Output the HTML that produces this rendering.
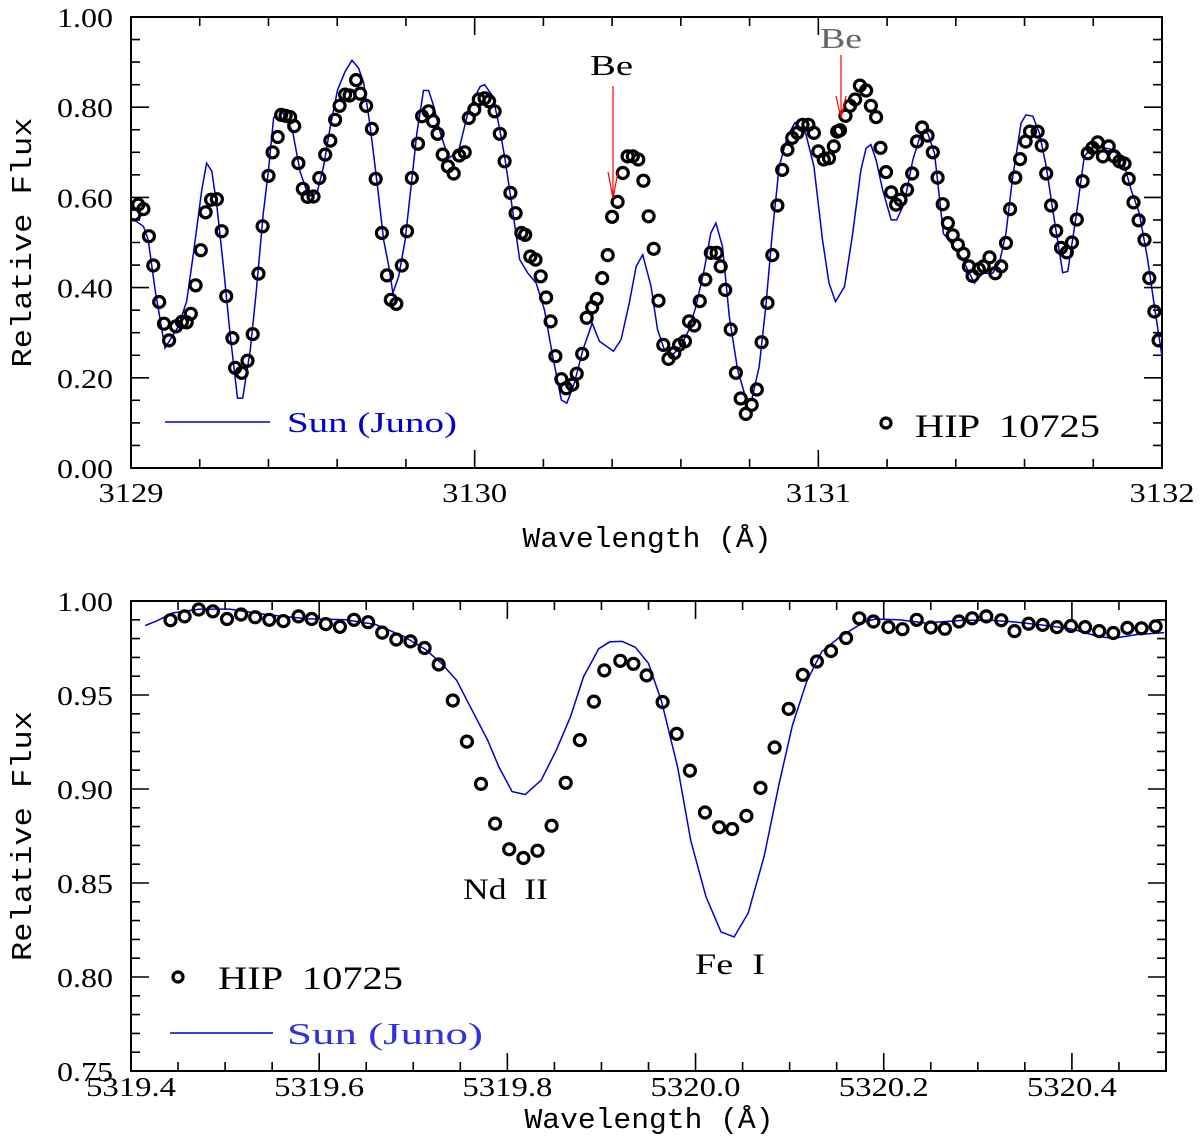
<!DOCTYPE html>
<html><head><meta charset="utf-8"><style>
html,body{margin:0;padding:0;background:#fff;}
svg{display:block;}
text{font-family:"Liberation Serif",serif;white-space:pre;}
.tk{font-size:27px;fill:#000;}
.ttl{font-family:"Liberation Mono",monospace;font-size:29px;fill:#000;}
</style></head><body>
<svg id="fig" width="1200" height="1139" viewBox="0 0 1200 1139" xmlns="http://www.w3.org/2000/svg"></svg>
<script>
// ---------- TOP PANEL DATA (Be region) ----------
const topStarWl = [3129.010,3129.021,3129.036,3129.052,3129.065,3129.082,3129.096,3129.111,3129.131,3129.148,3129.162,3129.174,3129.188,3129.203,3129.217,3129.233,3129.250,3129.264,3129.277,3129.295,3129.303,3129.322,3129.339,3129.354,3129.371,3129.383,3129.400,3129.412,3129.427,3129.437,3129.450,3129.463,3129.475,3129.487,3129.500,3129.514,3129.531,3129.548,3129.565,3129.580,3129.594,3129.607,3129.623,3129.636,3129.655,3129.667,3129.684,3129.701,3129.712,3129.730,3129.745,3129.756,3129.772,3129.788,3129.803,3129.817,3129.835,3129.847,3129.866,3129.879,3129.892,3129.907,3129.922,3129.939,3129.955,3129.971,3129.983,3129.999,3130.012,
3130.029,3130.042,3130.058,3130.073,3130.087,3130.104,3130.119,3130.136,3130.147,3130.162,3130.177,3130.192,3130.208,3130.221,3130.235,3130.252,3130.266,3130.284,3130.297,3130.313,3130.326,3130.342,3130.355,3130.371,3130.387,3130.400,3130.416,3130.431,3130.445,3130.460,3130.476,3130.491,3130.506,3130.521,3130.535,3130.549,3130.564,3130.581,3130.595,3130.612,3130.624,3130.639,3130.655,3130.671,3130.687,3130.704,3130.716,3130.729,3130.745,3130.760,3130.774,3130.789,3130.806,3130.821,3130.835,3130.852,3130.866,3130.881,3130.895,3130.910,3130.924,3130.939,3130.954,3130.971,3130.987,3131.000,3131.016,3131.031,3131.045,3131.055,
3131.063,3131.079,3131.092,3131.107,3131.121,3131.139,3131.153,3131.168,3131.181,3131.197,3131.212,3131.226,3131.239,3131.258,3131.273,3131.287,3131.302,3131.318,3131.333,3131.347,3131.362,3131.377,3131.391,3131.406,3131.422,3131.438,3131.449,3131.467,3131.481,3131.498,3131.515,3131.532,3131.546,3131.558,3131.573,3131.587,3131.603,3131.616,3131.638,3131.650,3131.663,3131.677,3131.692,3131.706,3131.723,3131.738,3131.752,3131.769,3131.784,3131.798,3131.813,3131.828,3131.845,3131.861,3131.876,3131.891,3131.903,3131.917,3131.932,3131.949,3131.963,3131.978,3131.990];
const topStarFlux = [0.562,0.584,0.574,0.514,0.449,0.368,0.320,0.283,0.314,0.324,0.323,0.342,0.405,0.483,0.567,0.595,0.596,0.525,0.381,0.288,0.222,0.211,0.238,0.297,0.431,0.536,0.648,0.700,0.734,0.783,0.781,0.778,0.758,0.676,0.619,0.601,0.602,0.643,0.695,0.726,0.772,0.803,0.828,0.826,0.860,0.830,0.803,0.752,0.641,0.521,0.427,0.373,0.364,0.449,0.525,0.643,0.719,0.780,0.791,0.769,0.741,0.695,0.669,0.653,0.693,0.700,0.776,0.795,0.817,
0.820,0.813,0.791,0.741,0.680,0.610,0.565,0.521,0.517,0.469,0.462,0.425,0.378,0.325,0.248,0.197,0.177,0.185,0.209,0.253,0.333,0.356,0.375,0.421,0.472,0.557,0.590,0.654,0.691,0.691,0.684,0.637,0.558,0.486,0.371,0.273,0.242,0.255,0.273,0.281,0.325,0.316,0.370,0.418,0.477,0.477,0.447,0.395,0.307,0.211,0.154,0.120,0.140,0.174,0.279,0.366,0.472,0.582,0.661,0.706,0.732,0.743,0.761,0.761,0.743,0.702,0.684,0.687,0.713,0.746,
0.749,0.781,0.803,0.817,0.848,0.837,0.803,0.778,0.710,0.656,0.611,0.584,0.595,0.617,0.653,0.724,0.755,0.737,0.700,0.644,0.585,0.543,0.516,0.495,0.475,0.447,0.426,0.441,0.447,0.467,0.432,0.447,0.499,0.574,0.644,0.685,0.724,0.746,0.746,0.715,0.653,0.582,0.526,0.488,0.478,0.500,0.551,0.636,0.698,0.710,0.722,0.691,0.713,0.691,0.680,0.675,0.641,0.589,0.549,0.506,0.421,0.347,0.283];
const topSunWl = [3129.000,3129.036,3129.050,3129.070,3129.099,3129.138,3129.162,3129.182,3129.206,3129.220,3129.235,3129.250,3129.269,3129.288,3129.310,3129.325,3129.347,3129.364,3129.385,3129.400,3129.415,3129.429,3129.449,3129.471,3129.492,3129.517,3129.541,3129.560,3129.580,3129.601,3129.623,3129.643,3129.662,3129.677,3129.696,3129.716,3129.735,3129.750,3129.762,3129.779,3129.798,3129.817,3129.832,3129.851,3129.866,3129.881,3129.900,3129.924,3129.953,3129.978,3129.997,3130.016,
3130.029,3130.053,3130.071,3130.087,3130.106,3130.131,3130.155,3130.179,3130.203,3130.227,3130.252,3130.268,3130.290,3130.315,3130.342,3130.363,3130.404,3130.426,3130.450,3130.470,3130.489,3130.513,3130.532,3130.552,3130.576,3130.600,3130.624,3130.644,3130.668,3130.687,3130.702,3130.721,3130.741,3130.765,3130.789,3130.806,3130.828,3130.847,3130.866,3130.886,3130.910,3130.932,3130.963,3130.987,3131.012,3131.031,3131.050,
3131.076,3131.100,3131.124,3131.139,3131.153,3131.168,3131.187,3131.212,3131.228,3131.250,3131.275,3131.299,3131.318,3131.338,3131.364,3131.386,3131.420,3131.454,3131.478,3131.507,3131.527,3131.546,3131.566,3131.590,3131.604,3131.624,3131.643,3131.663,3131.682,3131.711,3131.726,3131.750,3131.774,3131.803,3131.832,3131.857,3131.886,3131.910,3131.934,3131.958,3131.978,3132.000];
const topSunFlux = [0.555,0.536,0.506,0.395,0.266,0.314,0.370,0.477,0.617,0.676,0.658,0.580,0.447,0.299,0.155,0.155,0.262,0.388,0.565,0.661,0.776,0.794,0.783,0.743,0.657,0.602,0.609,0.668,0.757,0.838,0.879,0.904,0.887,0.854,0.757,0.632,0.506,0.447,0.388,0.425,0.506,0.639,0.743,0.837,0.837,0.802,0.743,0.687,0.702,0.780,0.817,0.846,
0.850,0.824,0.758,0.691,0.595,0.462,0.432,0.410,0.351,0.248,0.151,0.144,0.188,0.262,0.321,0.281,0.259,0.285,0.366,0.447,0.473,0.403,0.307,0.262,0.251,0.270,0.307,0.359,0.440,0.521,0.543,0.491,0.336,0.218,0.155,0.151,0.225,0.358,0.521,0.669,0.735,0.766,0.743,0.669,0.506,0.410,0.369,
0.402,0.520,0.661,0.709,0.717,0.683,0.617,0.550,0.550,0.587,0.683,0.743,0.743,0.698,0.520,0.499,0.462,0.410,0.432,0.432,0.455,0.521,0.647,0.765,0.783,0.780,0.743,0.669,0.573,0.433,0.436,0.558,0.691,0.717,0.710,0.706,0.683,0.617,0.565,0.463,0.359,0.248];
const topXTicks = ["3129","3130","3131","3132"];
const topYTicks = ["0.00","0.20","0.40","0.60","0.80","1.00"];

// ---------- BOTTOM PANEL DATA (Nd II / Fe I region) ----------
const botStarWl = [5319.442,5319.457,5319.472,5319.487,5319.502,5319.517,5319.532,5319.547,5319.562,5319.578,5319.592,5319.607,5319.622,5319.637,5319.652,5319.667,5319.682,5319.697,5319.712,5319.727,5319.742,5319.757,5319.772,5319.787,5319.802,5319.817,5319.832,5319.847,5319.862,5319.877,5319.892,
5319.903,5319.920,5319.934,5319.948,5319.965,5319.980,5319.994,5320.010,5320.025,5320.039,5320.054,5320.069,5320.084,5320.099,5320.114,5320.129,5320.144,5320.160,5320.174,5320.189,5320.205,5320.220,5320.235,5320.250,5320.265,5320.280,5320.294,5320.309,5320.325,5320.339,5320.354,5320.369,5320.384,5320.399,5320.414,5320.429,5320.444,5320.459,5320.474,5320.489];
const botStarFlux = [0.9898,0.9918,0.9955,0.9945,0.9904,0.9928,0.9914,0.9900,0.9893,0.9918,0.9904,0.9877,0.9863,0.9900,0.9887,0.9832,0.9795,0.9785,0.9750,0.9662,0.9471,0.9252,0.9027,0.8816,0.8680,0.8633,0.8672,0.8805,0.9033,0.9260,0.9465,
0.9631,0.9682,0.9666,0.9604,0.9463,0.9293,0.9098,0.8875,0.8797,0.8787,0.8857,0.9006,0.9221,0.9426,0.9607,0.9678,0.9734,0.9803,0.9908,0.9891,0.9861,0.9850,0.9900,0.9859,0.9852,0.9891,0.9908,0.9918,0.9898,0.9840,0.9879,0.9873,0.9861,0.9867,0.9861,0.9840,0.9830,0.9857,0.9855,0.9865];
const botSunWl = [5319.415,5319.428,5319.444,5319.473,5319.505,5319.546,5319.587,5319.628,5319.660,5319.689,5319.713,5319.730,5319.746,5319.762,5319.779,5319.791,5319.805,5319.819,5319.836,5319.852,5319.867,5319.881,5319.891,
5319.897,5319.909,5319.922,5319.936,5319.950,5319.964,5319.981,5319.995,5320.011,5320.027,5320.041,5320.056,5320.073,5320.089,5320.103,5320.118,5320.134,5320.154,5320.179,5320.191,5320.216,5320.244,5320.285,5320.313,5320.338,5320.367,5320.399,5320.428,5320.444,5320.469,5320.498];
const botSunFlux = [0.9869,0.9895,0.9936,0.9957,0.9957,0.9926,0.9906,0.9900,0.9875,0.9814,0.9742,0.9668,0.9578,0.9424,0.9260,0.9117,0.8986,0.8971,0.9047,0.9207,0.9383,0.9598,0.9689,
0.9746,0.9783,0.9785,0.9754,0.9668,0.9463,0.9115,0.8725,0.8428,0.8240,0.8213,0.8340,0.8643,0.9033,0.9340,0.9570,0.9730,0.9811,0.9887,0.9904,0.9900,0.9883,0.9898,0.9898,0.9889,0.9873,0.9852,0.9811,0.9801,0.9822,0.9832];
const botXTicks = ["5319.4","5319.6","5319.8","5320.0","5320.2","5320.4"];
const botYTicks = ["0.75","0.80","0.85","0.90","0.95","1.00"];

const NS = "http://www.w3.org/2000/svg";
const svgRoot = document.getElementById('fig');
function mk(tag, attrs, parent){
  const el = document.createElementNS(NS, tag);
  for (const k in attrs) el.setAttribute(k, attrs[k]);
  (parent||svgRoot).appendChild(el);
  return el;
}

function panel(cfg){
  const g = mk('g', {});
  
  
  const L=cfg.L,R=cfg.R,T=cfg.T,B=cfg.B;
  const sx = v => L + (v - cfg.x0)/(cfg.x1 - cfg.x0)*(R-L);
  const sy = v => B - (v - cfg.y0)/(cfg.y1 - cfg.y0)*(B-T);
  const fr = mk('rect', {x:L,y:T,width:R-L,height:B-T,fill:'none',stroke:'#000','stroke-width':2}, g);
  
  
  let tp = '';
  const nx = Math.round((cfg.x1-cfg.x0)/cfg.xMinor);
  for (let i=0;i<=nx;i++){
    const v = cfg.x0 + i*cfg.xMinor;
    const q = (v-cfg.x0)/cfg.xMajor;
    const major = Math.abs(q - Math.round(q))<1e-6;
    const len = major?18:9, x=sx(v);
    tp += 'M'+x+','+B+'v'+(-len)+'M'+x+','+T+'v'+len;
  }
  const ny = Math.round((cfg.y1-cfg.y0)/cfg.yMinor);
  for (let i=0;i<=ny;i++){
    const v = cfg.y0 + i*cfg.yMinor;
    const q = (v-cfg.y0)/cfg.yMajor;
    const major = Math.abs(q - Math.round(q))<1e-6;
    const len = major?18:9, y=sy(v);
    tp += 'M'+L+','+y+'h'+len+'M'+R+','+y+'h'+(-len);
  }
  const tk = mk('path', {d:tp, stroke:'#000','stroke-width':1.6, fill:'none'}, g);
  
  
  cfg.xTicks.forEach(s=>{
    const t = mk('text', {x:sx(parseFloat(s)), y:B+cfg.xtOff, 'text-anchor':'middle', 'class':'tk', textLength:cfg.xtW, lengthAdjust:'spacingAndGlyphs'}, g);
    
    
    t.textContent = s;
  });
  cfg.yTicks.forEach(s=>{
    const t = mk('text', {x:L-74, y:sy(parseFloat(s))+10, 'class':'tk', textLength:56, lengthAdjust:'spacingAndGlyphs'}, g);
    
    
    t.textContent = s;
  });
  const cid = cfg.name+'-clip';
  const cp = mk('clipPath', {id:cid}, g);
  mk('rect', {x:L,y:T,width:R-L,height:B-T}, cp);
  let d = '';
  cfg.sunWl.forEach((w,i)=>{ d += (i?'L':'M') + sx(w).toFixed(1) + ',' + sy(cfg.sunFlux[i]).toFixed(1); });
  const ln = mk('path', {d:d, stroke:'#0000cc', 'stroke-width':1.5, fill:'none', 'clip-path':'url(#'+cid+')'}, g);
  
  
  const pg = mk('g', {'clip-path':'url(#'+cid+')'}, g);
  
  
  cfg.starWl.forEach((w,i)=>{
    const c = mk('circle', {cx:sx(w).toFixed(1), cy:sy(cfg.starFlux[i]).toFixed(1), r:5.5, fill:'none', stroke:'#000','stroke-width':3.2}, pg);
    
    
  });
  const xt = mk('text', {x:(L+R)/2+0.5, y:B+cfg.titleOff, 'text-anchor':'middle', 'class':'ttl', textLength:249, lengthAdjust:'spacingAndGlyphs'}, g);
  
  
  xt.textContent = 'Wavelength (Å)';
  const yc = (T+B)/2;
  const yt = mk('text', {x:0, y:0, 'text-anchor':'middle', 'class':'ttl', transform:'translate(31,'+yc+') rotate(-90)', textLength:250, lengthAdjust:'spacingAndGlyphs'}, g);
  
  
  yt.textContent = 'Relative Flux';
  return g;
}

const topPanel = panel({name:'top-panel', L:131,R:1162,T:17,B:468, x0:3129,x1:3132,y0:0,y1:1,
  xMinor:0.2,xMajor:1,yMinor:0.05,yMajor:0.2, xTicks:topXTicks,yTicks:topYTicks, xtOff:34, xtW:65, titleOff:79,
  starWl:topStarWl,starFlux:topStarFlux,sunWl:topSunWl,sunFlux:topSunFlux});
const botPanel = panel({name:'bottom-panel', L:131,R:1166,T:601,B:1071, x0:5319.4,x1:5320.5,y0:0.75,y1:1.0,
  xMinor:0.05,xMajor:0.2,yMinor:0.01,yMajor:0.05, xTicks:botXTicks,yTicks:botYTicks, xtOff:25, xtW:90, titleOff:57,
  starWl:botStarWl,starFlux:botStarFlux,sunWl:botSunWl,sunFlux:botSunFlux});

function txt(x,y,s,w,attrs){
  const t = mk('text', Object.assign({x:x,y:y,textLength:w,lengthAdjust:'spacingAndGlyphs'}, attrs));
  t.textContent = s;
  return t;
}
let el;
el = mk('line', {x1:165,y1:422,x2:270,y2:422,stroke:'#0000cc','stroke-width':1.5});


el = txt(287,432,'Sun (Juno)',170,{'font-size':28,fill:'#0000cc'});


el = mk('circle', {cx:886,cy:423,r:5,fill:'none',stroke:'#000','stroke-width':3.2});


el = txt(915,437,'HIP  10725',185,{'font-size':33,fill:'#000'});


el = txt(590,75,'Be',43,{'font-size':29,fill:'#000'});


el = mk('path', {d:'M613,86V198M608,172L613,198L618,172',stroke:'#ff0000','stroke-width':1.2,fill:'none'});


el = txt(820,48,'Be',42,{'font-size':29,fill:'#666'});


el = mk('path', {d:'M841,55V118M836,96L841,118L846,96',stroke:'#ff0000','stroke-width':1.2,fill:'none'});


el = mk('circle', {cx:178,cy:977,r:5,fill:'none',stroke:'#000','stroke-width':3.2});


el = txt(218,989,'HIP  10725',185,{'font-size':33,fill:'#000'});


el = mk('line', {x1:170,y1:1033,x2:273,y2:1033,stroke:'#0000cc','stroke-width':1.5});


el = txt(287,1044,'Sun (Juno)',196,{'font-size':31,fill:'#3333dd'});


el = txt(463,899,'Nd  II',85,{'font-size':30,fill:'#000'});


el = txt(695,974,'Fe  I',70,{'font-size':30,fill:'#000'});


</script>
</body></html>
